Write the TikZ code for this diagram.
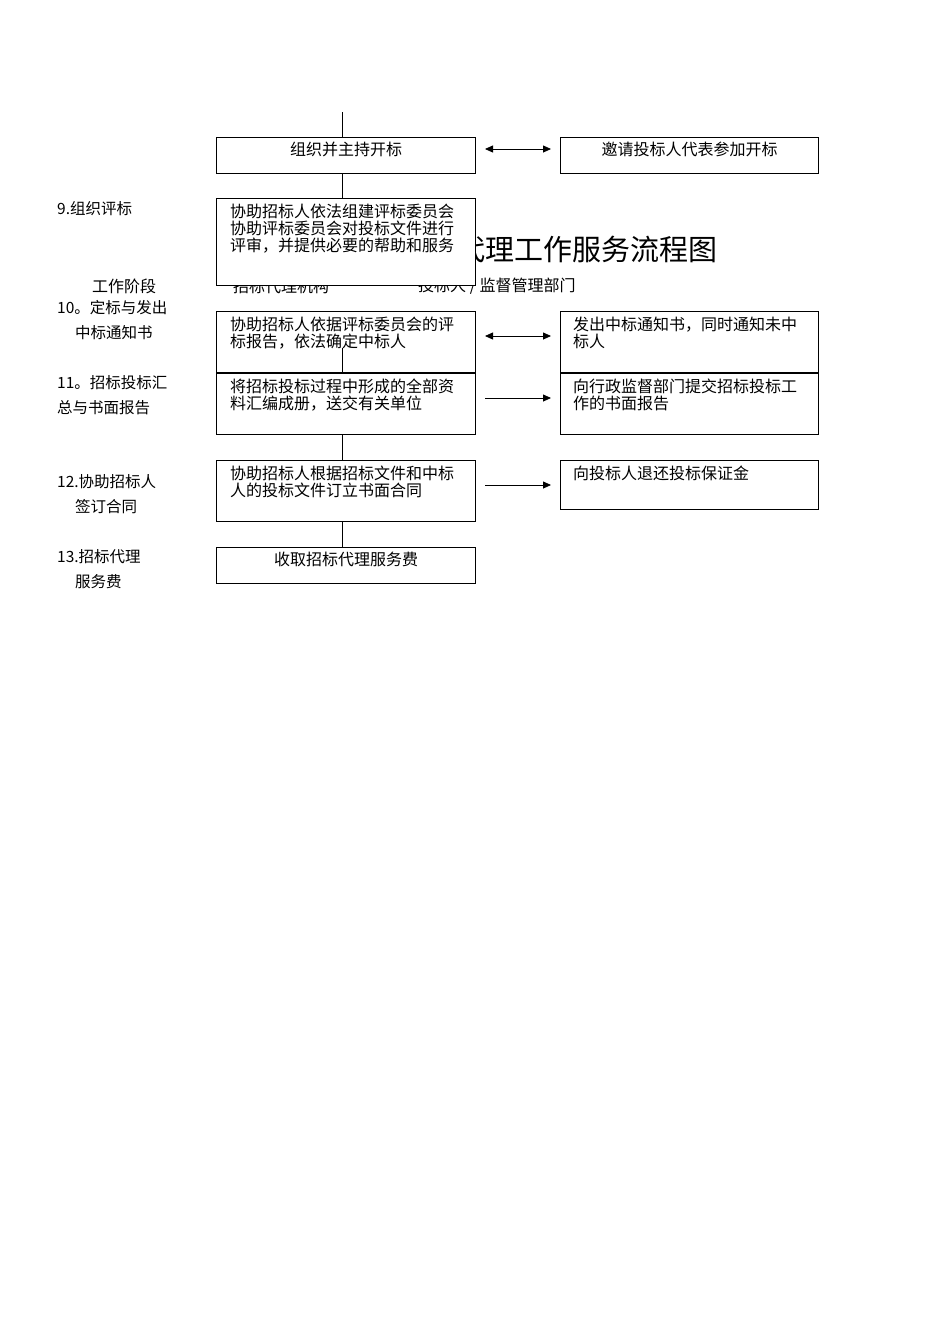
\documentclass[tikz,border=0pt]{standalone}
\usepackage{fontspec}
\setmainfont{Noto Sans CJK SC}
\usetikzlibrary{arrows.meta}
\begin{document}
\begin{tikzpicture}[x=1pt,y=-1pt,
  bx/.style={draw,line width=0.8pt,fill=white,anchor=north west,inner sep=0pt,minimum width=259.2pt},
  tx/.style={anchor=north west,inner sep=0pt,font=\fontsize{16}{17}\selectfont,align=left},
  lb/.style={anchor=north west,inner sep=0pt,font=\fontsize{15.5}{25}\selectfont,align=left},
  ln/.style={line width=0.8pt},
  ar/.style={line width=0.8pt,-{Triangle[length=8pt,width=7pt]}},
  dar/.style={line width=0.8pt,{Triangle[length=8pt,width=7pt]}-{Triangle[length=8pt,width=7pt]}}]
\useasboundingbox (0,0) rectangle (950,1344);
\coordinate (sx) at (342,0);
% title and header (partly covered)
\node[anchor=west,inner sep=0pt,font=\fontsize{29}{29}\selectfont] (title) at (398,249) {招标代理工作服务流程图};
\node[anchor=west,inner sep=0pt,font=\fontsize{16}{16}\selectfont] (h1) at (92,286) {工作阶段};
\node[anchor=west,inner sep=0pt,font=\fontsize{16}{16}\selectfont] (h2) at (233,286) {招标代理机构};
\node[anchor=west,inner sep=0pt,font=\fontsize{16}{16}\selectfont] (h3) at (418,286) {投标人 / 监督管理部门};
% boxes
\node[bx,minimum height=36.2pt] (A) at (216,137) {};
\node[anchor=north,inner sep=0pt,font=\fontsize{16}{16}\selectfont] at ([yshift=-5pt]A.north) {组织并主持开标};
\node[bx,minimum width=258.2pt,minimum height=36.2pt] (B) at (560,137) {};
\node[anchor=north,inner sep=0pt,font=\fontsize{16}{16}\selectfont] at ([yshift=-5pt]B.north) {邀请投标人代表参加开标};
\coordinate (top) at (342,112);
\draw[ln] (top) -- (A.north -| sx);
\node[bx,minimum height=87.2pt] (C) at (216,198) {};
\node[tx] at (230,204) {协助招标人依法组建评标委员会\\协助评标委员会对投标文件进行\\评审，并提供必要的帮助和服务};
\draw[ln] (A.south -| sx) -- (C.north -| sx);
\node[bx,minimum height=61.2pt,fill=none] (D) at (216,311) {};
\node[tx] at (230,317) {协助招标人依据评标委员会的评\\标报告，依法确定中标人};
\node[bx,minimum width=258.2pt,minimum height=61.2pt,fill=none] (E) at (560,311) {};
\node[tx] at (573,317) {发出中标通知书，同时通知未中\\标人};
\node[bx,minimum height=61.2pt,fill=none] (F) at (216,373) {};
\node[tx] at (230,379) {将招标投标过程中形成的全部资\\料汇编成册，送交有关单位};
\node[bx,minimum width=258.2pt,minimum height=61.2pt,fill=none] (G) at (560,373) {};
\node[tx] at (573,379) {向行政监督部门提交招标投标工\\作的书面报告};
\coordinate (dmid) at (342,348);
\draw[ln] (dmid) -- (F.north -| sx);
\node[bx,minimum height=61.2pt] (H) at (216,460) {};
\node[tx] at (230,466) {协助招标人根据招标文件和中标\\人的投标文件订立书面合同};
\node[bx,minimum width=258.2pt,minimum height=49.2pt] (I) at (560,460) {};
\node[tx] at (573,466) {向投标人退还投标保证金};
\draw[ln] (F.south -| sx) -- (H.north -| sx);
\node[bx,minimum height=36.2pt] (J) at (216,547) {};
\node[anchor=north,inner sep=0pt,font=\fontsize{16}{16}\selectfont] at ([yshift=-5pt]J.north) {收取招标代理服务费};
\draw[ln] (H.south -| sx) -- (J.north -| sx);
% arrows
\coordinate (a1) at (485,149); \coordinate (b1) at (551,149);
\coordinate (a2) at (485,336); \coordinate (b2) at (551,336);
\coordinate (a3) at (485,398); \coordinate (b3) at (551,398);
\coordinate (a4) at (485,485); \coordinate (b4) at (551,485);
\draw[dar] (a1) -- (b1);
\draw[dar] (a2) -- (b2);
\draw[ar] (a3) -- (b3);
\draw[ar] (a4) -- (b4);
% stage labels
\node[lb] (s9) at (57,201) {9.组织评标};
\node[lb] (s10) at (57,300) {10。定标与发出\\\hspace*{18pt}中标通知书};
\node[lb] (s11) at (57,375) {11。招标投标汇\\总与书面报告};
\node[lb] (s12) at (57,474) {12.协助招标人\\\hspace*{18pt}签订合同};
\node[lb] (s13) at (57,549) {13.招标代理\\\hspace*{18pt}服务费};
\end{tikzpicture}
\end{document}
